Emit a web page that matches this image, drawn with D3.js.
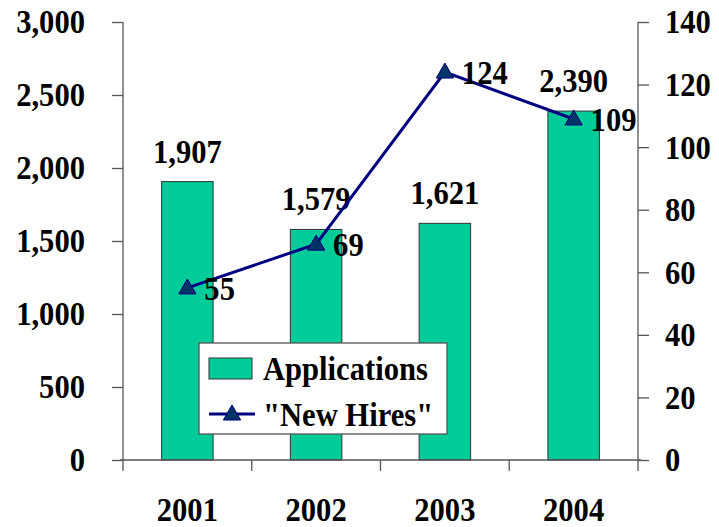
<!DOCTYPE html>
<html><head><meta charset="utf-8">
<script src="https://cdn.jsdelivr.net/npm/d3@7"></script>
<style>body{margin:0;background:#fff}svg{display:block}text{font-family:"Liberation Serif","Times New Roman",serif;font-weight:bold;fill:#000}</style>
</head><body><svg id="c" width="719" height="527"></svg>
<script>
const years = ["2001","2002","2003","2004"];
const applications = [1907,1579,1621,2390];
const newHires = [55,69,124,109];
const leftTicks = [0,500,1000,1500,2000,2500,3000];
const rightTicks = [0,20,40,60,80,100,120,140];
const seriesNames = ["Applications","\"New Hires\""];

const svg = d3.select("#c");
const L=123, R=638, T=22, B=460;
const fs = 34;
const x = d3.scaleBand().domain(years).range([L,R]).paddingInner(0.6).paddingOuter(0.3);
const xb = d3.scaleBand().domain(years).range([L,R]);
const yL = d3.scaleLinear().domain([0,3000]).range([B,T]);
const yR = d3.scaleLinear().domain([0,140]).range([B,T]);
const fmt = d3.format(",");
const axisCol = "#555";

// bars
svg.append("g").selectAll("rect").data(applications).join("rect")
  .attr("x",(d,i)=>x(years[i])).attr("width",x.bandwidth())
  .attr("y",d=>yL(d)).attr("height",d=>B-yL(d))
  .attr("fill","#00CC99").attr("stroke","#333").attr("stroke-width",1);

// bar labels
svg.append("g").selectAll("text").data(applications).join("text")
  .attr("x",(d,i)=>x(years[i])+x.bandwidth()/2).attr("y",d=>yL(d)-19)
  .attr("text-anchor","middle").attr("font-size",fs).text(d=>fmt(d));

// left axis
const gl = svg.append("g").attr("transform",`translate(${L},0)`)
  .call(d3.axisLeft(yL).tickValues(leftTicks).tickFormat(fmt).tickSize(11).tickPadding(27));
// right axis
const gr = svg.append("g").attr("transform",`translate(${R},0)`)
  .call(d3.axisRight(yR).tickValues(rightTicks).tickSize(11).tickPadding(16));
// bottom axis
const gb = svg.append("g").attr("transform",`translate(0,${B})`)
  .call(d3.axisBottom(xb).tickSize(0).tickPadding(0));
gb.selectAll(".tick text").remove();
const bounds = years.map(y=>xb(y)).concat([R]);
gb.selectAll("line.bt").data(bounds).join("line").attr("class","bt")
  .attr("x1",d=>d).attr("x2",d=>d).attr("y1",0).attr("y2",11).attr("stroke",axisCol).attr("stroke-width",1.3);
svg.append("g").selectAll("text").data(years).join("text")
  .attr("x",d=>xb(d)+xb.bandwidth()/2).attr("y",521)
  .attr("text-anchor","middle").attr("font-size",fs).text(d=>d);

[gl,gr,gb].forEach(g=>{
  g.select(".domain").attr("stroke",axisCol).attr("stroke-width",1.3);
  g.selectAll(".tick line").attr("stroke",axisCol).attr("stroke-width",1.3);
  g.selectAll(".tick text").attr("font-size",fs).attr("font-family",'"Liberation Serif",serif').attr("font-weight","bold").attr("fill","#000");
});
gl.select(".domain").attr("d",`M0,${T}V${B}`);
gr.select(".domain").attr("d",`M0,${T}V${B}`);
gb.select(".domain").attr("d",`M${L-3},0H${R+3}`);

// line
const cx = (i)=>xb(years[i])+xb.bandwidth()/2;
const line = d3.line().x((d,i)=>cx(i)).y(d=>yR(d));
svg.append("path").datum(newHires).attr("d",line).attr("fill","none")
  .attr("stroke","#000080").attr("stroke-width",3);
const tri = d3.symbol().type(d3.symbolTriangle).size(130);
svg.append("g").selectAll("path").data(newHires).join("path")
  .attr("transform",(d,i)=>`translate(${cx(i)},${yR(d)+1})`)
  .attr("d",tri).attr("fill","#003366").attr("stroke","#000080").attr("stroke-width",1);
svg.append("g").selectAll("text").data(newHires).join("text")
  .attr("x",(d,i)=>cx(i)+17).attr("y",d=>yR(d)+12)
  .attr("font-size",fs).text(d=>d);

// legend
const lg = svg.append("g");
lg.append("rect").attr("x",199).attr("y",343).attr("width",248).attr("height",91)
  .attr("fill","#fff").attr("stroke","#555").attr("stroke-width",1.3);
lg.append("rect").attr("x",209).attr("y",358).attr("width",43).attr("height",21)
  .attr("fill","#00CC99").attr("stroke","#333");
lg.append("line").attr("x1",209).attr("x2",255).attr("y1",414).attr("y2",414)
  .attr("stroke","#000080").attr("stroke-width",3);
lg.append("path").attr("transform","translate(232,415)").attr("d",tri)
  .attr("fill","#003366").attr("stroke","#000080");
lg.append("text").attr("x",263).attr("y",380).attr("font-size",fs).text(seriesNames[0]);
lg.append("text").attr("x",263).attr("y",426).attr("font-size",fs).text(seriesNames[1]);

// narrow all text horizontally about its anchor x (Times-like condensed look)
const sx = 0.9;
svg.selectAll("text").each(function(){
  const ax = +(this.getAttribute("x")||0);
  const cur = this.getAttribute("transform")||"";
  this.setAttribute("transform", `${cur} translate(${ax},0) scale(${sx},1) translate(${-ax},0)`);
});
</script></body></html>
